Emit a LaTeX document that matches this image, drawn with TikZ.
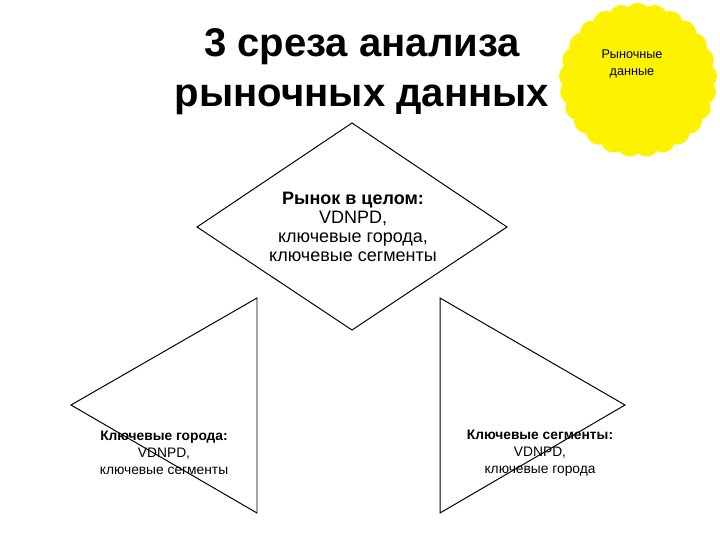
\documentclass[tikz,border=0pt]{standalone}
\usepackage{fontspec}
\setmainfont{Liberation Sans}
\usetikzlibrary{calc, positioning, shapes.symbols}

\begin{document}
\begin{tikzpicture}[x=0.025cm, y=-0.025cm,
  slice-line/.style={line width=0.7pt},
  slice-text/.style={align=center, inner sep=0, font=\fontsize{9.8}{12.1}\selectfont}]

  \useasboundingbox (0,0) rectangle (720,540);

  % title
  \node[align=center, inner sep=0, font=\bfseries\fontsize{28.5}{35.5}\selectfont] (title) at (362,72)
    {3 среза анализа\\рыночных данных};

  % market data burst
  \node[cloud, cloud puffs=25, cloud puff arc=95, aspect=1, fill=yellow, draw=none,
        minimum width=3.95cm, minimum height=3.85cm] (burst) at (638,80) {};
  \node[align=center, inner sep=0, font=\fontsize{9}{12}\selectfont] (burst-text) at (632,64)
    {Рыночные\\данные};

  % whole market
  \coordinate (whole-top)    at (352,123);
  \coordinate (whole-left)   at (197,227);
  \coordinate (whole-right)  at (507,227);
  \coordinate (whole-bottom) at (352,330);
  \draw[slice-line] (whole-top) to (whole-right) to (whole-bottom) to (whole-left) to cycle;
  \node[slice-text, font=\fontsize{12.8}{13.5}\selectfont] (whole-text) at (353,227)
    {\textbf{Рынок в целом:}\\VDNPD,\\ключевые города,\\ключевые сегменты};

  % key cities
  \coordinate (cities-top)    at (257,298);
  \coordinate (cities-tip)    at (71,405);
  \coordinate (cities-bottom) at (257,513);
  \draw[slice-line] (cities-top) to (cities-tip) to (cities-bottom) to cycle;
  \node[slice-text] (cities-text) at (164,453)
    {\textbf{Ключевые города:}\\VDNPD,\\ключевые сегменты};

  % key segments
  \coordinate (segments-top)    at (440,298);
  \coordinate (segments-tip)    at (625,405);
  \coordinate (segments-bottom) at (440,513);
  \draw[slice-line] (segments-top) to (segments-tip) to (segments-bottom) to cycle;
  \node[slice-text] (segments-text) at (540,453)
    {\textbf{Ключевые сегменты:}\\VDNPD,\\ключевые города};

\end{tikzpicture}
\end{document}
